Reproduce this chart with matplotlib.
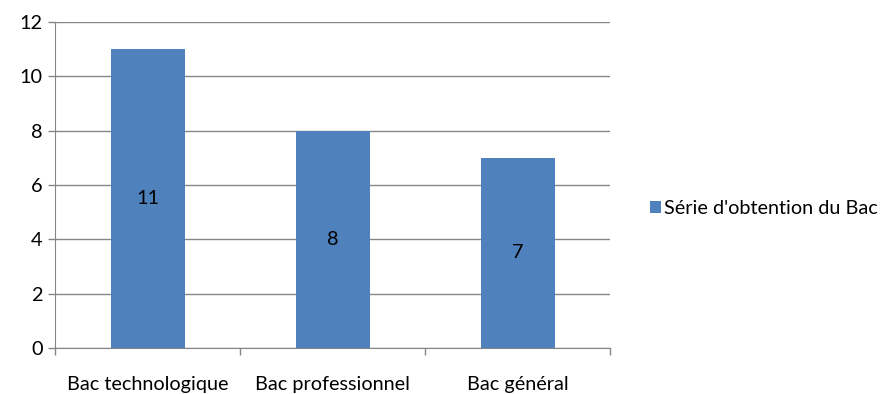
import matplotlib
matplotlib.use("Agg")
import matplotlib.pyplot as plt
from matplotlib.patches import Patch

categories = ["Bac technologique", "Bac professionnel", "Bac général"]
values = [11, 8, 7]
series_name = "Série d'obtention du Bac"
yticks = [0, 2, 4, 6, 8, 10, 12]

plt.rcParams['font.family'] = ['Lato', 'DejaVu Sans']
FS = 14.3

fig = plt.figure(figsize=(8.82, 3.94), dpi=100)
ax = fig.add_axes([55/882, 1 - 348/394, (610-55)/882, (348-22)/394])

color = "#4F81BD"
x = list(range(len(categories)))
bars = ax.bar(x, values, width=0.4, color=color, zorder=3)
for xi, v in zip(x, values):
    ax.text(xi, v / 2, str(v), ha="center", va="center", fontsize=FS, color="black", zorder=4)

ax.set_xlim(-0.5, len(categories) - 0.5)
ax.set_ylim(0, 12)
ax.set_yticks(yticks)
ax.set_yticklabels([str(t) for t in yticks], fontsize=FS)
ax.yaxis.grid(True, color="#868686", linewidth=1, zorder=0)
ax.set_axisbelow(True)

ax.set_xticks(x)
ax.set_xticklabels(categories, fontsize=FS)
ax.tick_params(axis="x", length=0, pad=20)
ax.set_xticks([-0.5 + i for i in range(len(categories) + 1)], minor=True)
ax.tick_params(axis="x", which="minor", length=5, color="#868686", width=1)
ax.tick_params(axis="y", length=5, color="#868686", width=1, pad=4)

for s in ["top", "right"]:
    ax.spines[s].set_visible(False)
ax.spines["left"].set_color("#868686")
ax.spines["bottom"].set_color("#868686")

handle = Patch(facecolor=color, edgecolor="none")
fig.legend([handle], [series_name], loc="center left", bbox_to_anchor=(650/882, 1 - 209/394),
           frameon=False, fontsize=FS, handlelength=0.55, handleheight=0.55, handletextpad=0.15,
           borderpad=0, borderaxespad=0)

fig.savefig("out.png", dpi=100)
